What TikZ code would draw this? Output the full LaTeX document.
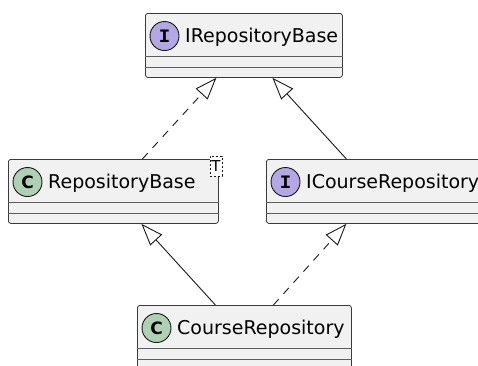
\documentclass[tikz,border=0pt]{standalone}
\usepackage{fontspec}
\setmainfont{DejaVu Sans}
\newfontfamily\monoicon{Liberation Mono}
\usetikzlibrary{arrows.meta,calc}

\definecolor{boxfill}{HTML}{F1F1F1}
\definecolor{ink}{HTML}{181818}
\definecolor{ifacecol}{HTML}{B4A7E5}
\definecolor{classcol}{HTML}{ADD1B2}

\tikzset{
  classbox/.style={draw=ink!85, fill=boxfill, line width=0.8pt, rounded corners=2.5pt,
    rectangle, inner sep=0pt, anchor=north west},
  divider/.style={draw=ink!70, line width=0.8pt},
  icon/.style={circle, draw=ink, line width=0.9pt, minimum size=29pt, inner sep=0pt},
  ifaceicon/.style={icon, fill=ifacecol, font=\monoicon\bfseries\fontsize{19}{19}\selectfont},
  classicon/.style={icon, fill=classcol, font=\bfseries\fontsize{17}{17}\selectfont},
  title/.style={anchor=base west, inner sep=0pt, text=black,
    font=\fontsize{19}{22}\selectfont},
  tmpl/.style={draw=ink, fill=white, dashed, dash pattern=on 2pt off 2pt, line width=0.8pt,
    minimum width=12pt, minimum height=20pt, inner sep=0pt,
    font=\fontsize{15}{15}\selectfont},
  inherit/.style={draw=ink, line width=0.9pt,
    -{Triangle[open, length=22pt, width=16pt, fill=white]}},
  realize/.style={inherit, dash pattern=on 8pt off 7pt},
}

% one class box: name, north-west corner, width, icon style, icon letter, title
\newcommand{\umlbox}[6]{%
  \node[classbox, minimum width=#3pt, minimum height=64pt] (#1) at #2 {};
  \draw[divider] ($(#1.north west)+(0,43)$) -- ($(#1.north east)+(0,43)$);
  \draw[divider] ($(#1.north west)+(0,54)$) -- ($(#1.north east)+(0,54)$);
  \node[#4] (#1-icon) at ($(#1.north west)+(19.5,23)$) {#5};
  \node[title] (#1-name) at ($(#1.north west)+(40,29.7)$) {#6};
}

\begin{document}
\begin{tikzpicture}[x=1pt, y=-1pt]
  \useasboundingbox (0,0) rectangle (478,365);
  \clip (0,0) rectangle (478,365);

  \umlbox{irb}{(145,13)}{197}{ifaceicon}{I}{IRepositoryBase}
  \umlbox{rb}{(8,159)}{210}{classicon}{C}{RepositoryBase}
  \umlbox{icr}{(266,159)}{216}{ifaceicon}{I}{ICourseRepository}
  \umlbox{cr}{(137,305)}{214}{classicon}{C}{CourseRepository}

  % generic parameter of RepositoryBase
  \node[tmpl] (rb-param) at (216,166) {T};

  % inheritance and realization arrows
  \draw[realize] ($(rb.north)+(29,0)$)  -- ($(irb.south)+(-27.5,0)$);
  \draw[inherit] ($(icr.north)+(-28,0)$) -- ($(irb.south)+(28.5,0)$);
  \draw[inherit] ($(cr.north)+(-29,0)$) -- ($(rb.south)+(28,0)$);
  \draw[realize] ($(cr.north)+(29,0)$)  -- ($(icr.south)+(-28,0)$);
\end{tikzpicture}
\end{document}
